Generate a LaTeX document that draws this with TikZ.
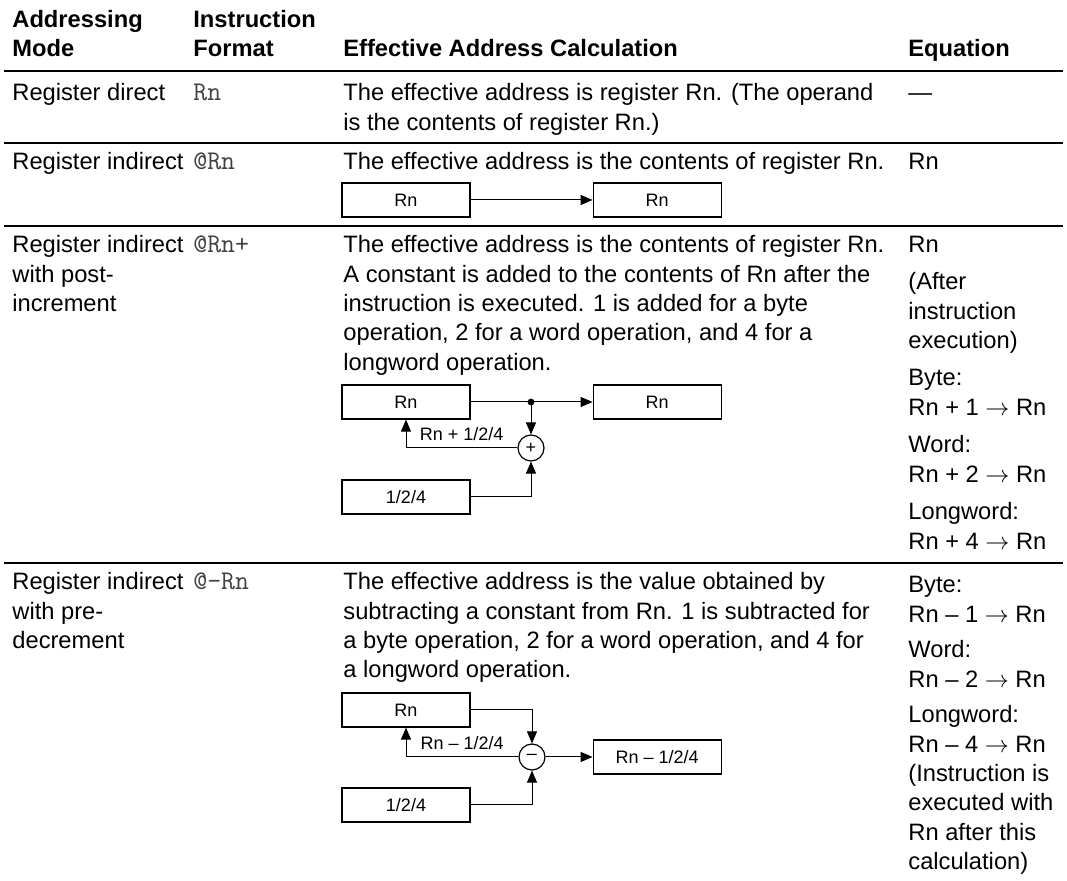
\documentclass[tikz,border=0pt]{standalone}
\usepackage{fontspec}
\setmainfont{Liberation Sans}
\usepackage{tikz}
\usetikzlibrary{positioning,calc,arrows.meta}

\newcommand{\bodyfont}{\fontsize{11.85}{14.65}\selectfont}
\newcommand{\codefont}{\fontsize{13.5}{14.65}\selectfont\ttfamily}
\newcommand{\figfont}{\fontsize{9}{11}\selectfont}

\begin{document}
\begin{tikzpicture}[x=0.5pt,y=-0.5pt,>={Triangle[length=6pt,width=5pt]},
		cell/.style={anchor=base west,inner sep=0pt,align=left,font=\bodyfont},
		head/.style={cell,font=\bodyfont\bfseries},
		fmt/.style={cell,font=\codefont,text=black!75},
		regbox/.style={draw,line width=0.6pt,minimum width=64pt,minimum height=17pt,inner sep=0pt,font=\figfont},
		opcirc/.style={draw,circle,line width=0.6pt,minimum size=13pt,inner sep=0pt,font=\figfont},
		wire/.style={line width=0.5pt},
		toprule/.style={line width=1.4pt},
		midrule/.style={line width=1pt},
		node distance=61pt]
		\useasboundingbox (0,0) rectangle (1067,881);
		% multi-line cells sit on the baseline of their last line

		% header
		\node[head] (h-mode) at (12,57) {Addressing\\Mode};
		\node[head] (h-fmt) at (193,57) {Instruction\\Format};
		\node[head] (h-calc) at (343,57) {Effective Address Calculation};
		\node[head] (h-eq) at (908,57) {Equation};
		\draw[toprule] (4,71) -- (1063,71);

		% register direct
		\node[cell] (rd-mode) at (12,101) {Register direct};
		\node[fmt] (rd-fmt) at (193,101) {Rn};
		\node[cell] (rd-calc) at (343,130.3) {The effective address is register Rn. (The operand\\is the contents of register Rn.)};
		\node[cell] (rd-eq) at (908,101) {—};
		\draw[midrule] (4,143) -- (1063,143);

		% register indirect
		\node[cell] (ri-mode) at (12,170) {Register indirect};
		\node[fmt] (ri-fmt) at (193,170) {@Rn};
		\node[cell] (ri-calc) at (343,170) {The effective address is the contents of register Rn.};
		\node[cell] (ri-eq) at (908,170) {Rn};
		\node[regbox] (ri-rn) at (406,200) {Rn};
		\node[regbox,right=of ri-rn] (ri-ea) {Rn};
		\draw[wire,->] (ri-rn) -- (ri-ea);
		\draw[midrule] (4,226) -- (1063,226);

		% post-increment
		\node[cell] (pi-mode) at (12,311.6) {Register indirect\\with post-\\increment};
		\node[fmt] (pi-fmt) at (193,253) {@Rn+};
		\node[cell] (pi-calc) at (343,370.2) {The effective address is the contents of register Rn.\\A constant is added to the contents of Rn after the\\instruction is executed. 1 is added for a byte\\operation, 2 for a word operation, and 4 for a\\longword operation.};
		\node[cell] (pi-eq1) at (908,253) {Rn};
		\node[cell] (pi-eq2) at (908,348.6) {(After\\instruction\\execution)};
		\node[cell] (pi-eq3) at (908,415.3) {Byte:\\Rn + 1 $\rightarrow$ Rn};
		\node[cell] (pi-eq4) at (908,482.3) {Word:\\Rn + 2 $\rightarrow$ Rn};
		\node[cell] (pi-eq5) at (908,549.3) {Longword:\\Rn + 4 $\rightarrow$ Rn};
		\node[regbox] (pi-rn) at (406,402) {Rn};
		\node[regbox,right=of pi-rn] (pi-ea) {Rn};
		\node[opcirc] (pi-add) at (531,448) {+};
		\node[regbox] (pi-inc) at (406,497) {1/2/4};
		\coordinate (pi-tap) at (pi-add |- pi-rn);
		\draw[wire,->] (pi-rn) -- (pi-ea);
		\fill (pi-tap) circle (1.7pt);
		\draw[wire,->] (pi-tap) -- (pi-add);
		\draw[wire,->] (pi-add) -| node[above,pos=.25,font=\figfont] (pi-sum) {Rn + 1/2/4} (pi-rn);
		\draw[wire,->] (pi-inc) -| (pi-add);
		\draw[midrule] (4,563) -- (1063,563);

		% pre-decrement
		\node[cell] (pd-mode) at (12,648.6) {Register indirect\\with pre-\\decrement};
		\node[fmt] (pd-fmt) at (193,590) {@-Rn};
		\node[cell] (pd-calc) at (343,677.9) {The effective address is the value obtained by\\subtracting a constant from Rn. 1 is subtracted for\\a byte operation, 2 for a word operation, and 4 for\\a longword operation.};
		\node[cell] (pd-eq1) at (908,622.3) {Byte:\\Rn – 1 $\rightarrow$ Rn};
		\node[cell] (pd-eq2) at (908,687.3) {Word:\\Rn – 2 $\rightarrow$ Rn};
		\node[cell] (pd-eq3) at (908,869.5) {Longword:\\Rn – 4 $\rightarrow$ Rn\\(Instruction is\\executed with\\Rn after this\\calculation)};
		\node[regbox] (pd-rn) at (406,710) {Rn};
		\node[opcirc] (pd-sub) at (532,757) {–};
		\node[regbox,right=23.5pt of pd-sub] (pd-ea) {Rn – 1/2/4};
		\node[regbox] (pd-dec) at (406,805) {1/2/4};
		\draw[wire,->] (pd-rn) -| (pd-sub);
		\draw[wire,->] (pd-sub) -| node[above,pos=.25,font=\figfont] (pd-diff) {Rn – 1/2/4} (pd-rn);
		\draw[wire,->] (pd-sub) -- (pd-ea);
		\draw[wire,->] (pd-dec) -| (pd-sub);
	\end{tikzpicture}
\end{document}
